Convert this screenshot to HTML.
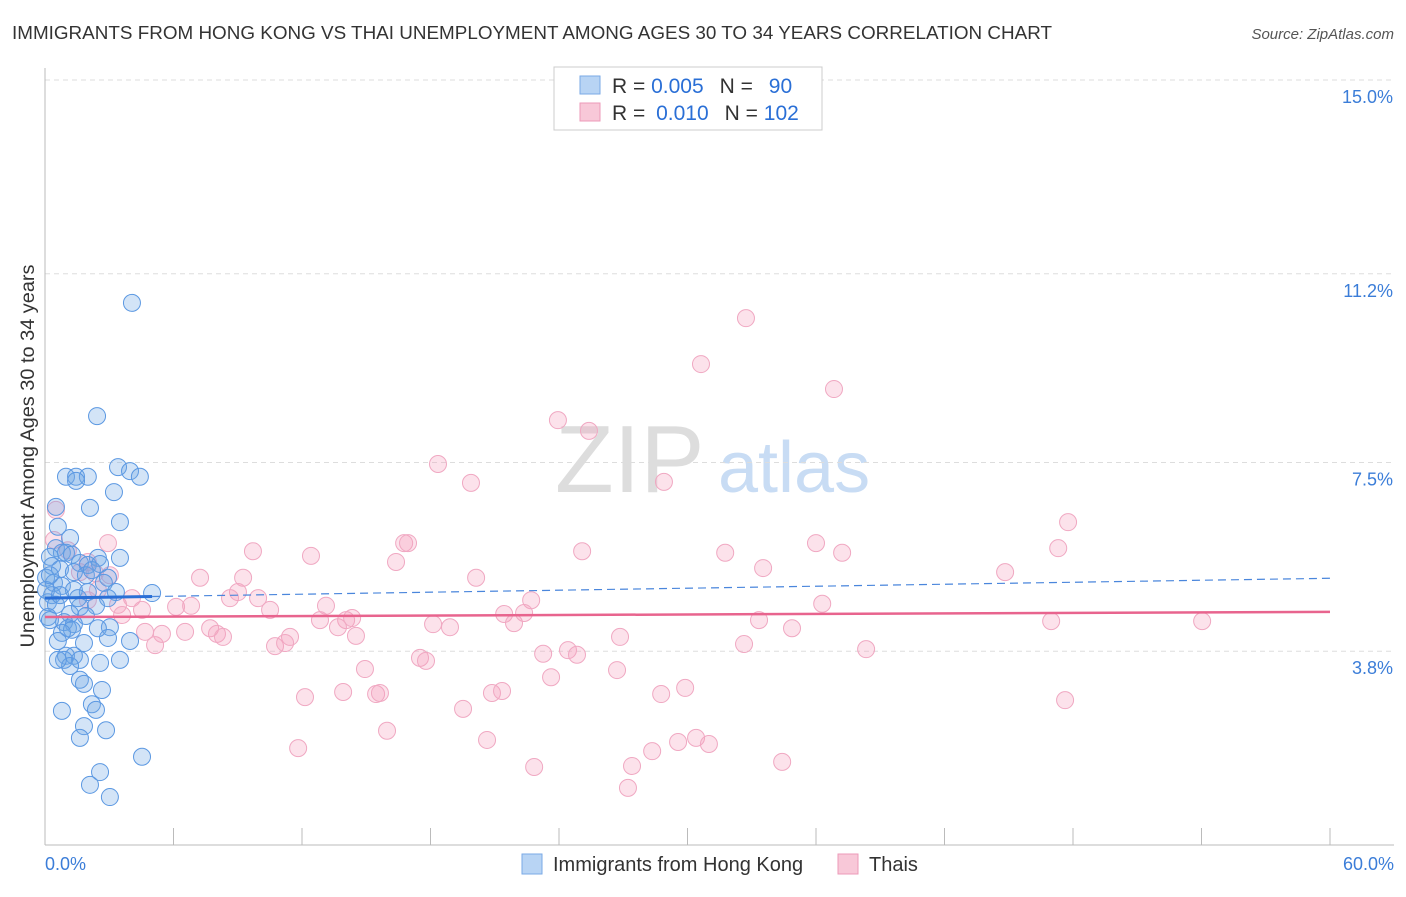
<!DOCTYPE html>
<html><head><meta charset="utf-8"><style>
body{margin:0;background:#fff;font-family:"Liberation Sans",sans-serif;}
svg text{font-family:"Liberation Sans",sans-serif;}
</style></head><body>
<svg id="chart" width="1406" height="892">
<text x="12" y="39" font-size="18" fill="#333" textLength="1040" lengthAdjust="spacingAndGlyphs">IMMIGRANTS FROM HONG KONG VS THAI UNEMPLOYMENT AMONG AGES 30 TO 34 YEARS CORRELATION CHART</text>
<text x="1394" y="39" font-size="15" fill="#555" font-style="italic" text-anchor="end">Source: ZipAtlas.com</text>
<text transform="translate(34,456) rotate(-90)" font-size="19" fill="#333" text-anchor="middle" textLength="383" lengthAdjust="spacingAndGlyphs">Unemployment Among Ages 30 to 34 years</text>
<text x="555" y="492" font-size="96" fill="#ddd" font-family="Liberation Serif">ZIP</text>
<text x="718" y="492" font-size="72" fill="#c8dcf4">atlas</text>
<g id="grid"></g><g id="pts"></g><g id="lines"></g>
<g>
<rect x="554" y="67" width="268" height="63" fill="#fff" stroke="#ccc"/>
<rect x="580" y="76" width="20" height="18" fill="#b8d4f4" stroke="#7aaae6"/>
<rect x="580" y="103" width="20" height="18" fill="#f8c8d8" stroke="#ec9ab8"/>
<text x="612" y="93" font-size="21" fill="#333">R = <tspan fill="#2a6fd6">0.005</tspan><tspan dx="16">N = </tspan><tspan fill="#2a6fd6" dx="10">90</tspan></text>
<text x="612" y="120" font-size="21" fill="#333">R = <tspan fill="#2a6fd6" dx="5">0.010</tspan><tspan dx="16">N = </tspan><tspan fill="#2a6fd6">102</tspan></text>
</g>
<g>
<rect x="522" y="854" width="20" height="20" fill="#b8d4f4" stroke="#7aaae6"/>
<text x="553" y="871" font-size="20" fill="#333">Immigrants from Hong Kong</text>
<rect x="838" y="854" width="20" height="20" fill="#f8c8d8" stroke="#ec9ab8"/>
<text x="869" y="871" font-size="20" fill="#333">Thais</text>
</g>
</svg>
<script>
const yTicks=[15.0,11.2,7.5,3.8];
const yTickLabels=["15.0%","11.2%","7.5%","3.8%"];
const xTickVals=[0,6,12,18,24,30,36,42,48,54,60];
const blueX=[4.06,2.43,3.41,3.97,4.43,0.98,1.45,2.0,1.45,3.22,0.51,2.1,3.5,0.6,1.17,0.51,0.79,0.23,0.98,1.26,2.47,3.5,1.63,2.0,2.57,0.33,0.7,1.35,1.91,2.94,0.05,0.42,2.75,0.79,1.35,2.0,0.33,3.31,5.0,2.94,0.14,0.51,1.63,2.38,1.17,1.91,0.14,0.89,1.35,1.07,1.26,3.03,0.79,2.47,2.94,3.97,0.6,1.82,0.98,1.35,1.63,0.89,3.5,1.17,2.57,1.63,1.82,2.66,2.19,2.38,0.79,1.82,2.85,1.63,4.53,2.57,2.1,3.03,0.6,0.23,0.05,0.23,0.7,2.19,1.54];
const blueY=[10.63,8.41,7.41,7.33,7.22,7.22,7.22,7.22,7.14,6.92,6.63,6.61,6.33,6.24,6.02,5.82,5.73,5.65,5.73,5.69,5.63,5.63,5.53,5.49,5.51,5.47,5.41,5.35,5.29,5.24,5.24,5.14,5.14,5.08,5.0,4.96,4.9,4.96,4.94,4.84,4.76,4.71,4.67,4.69,4.53,4.49,4.47,4.37,4.33,4.25,4.22,4.27,4.16,4.25,4.06,4.0,4.0,3.96,3.71,3.71,3.63,3.63,3.63,3.51,3.57,3.24,3.16,3.04,2.76,2.65,2.63,2.33,2.25,2.1,1.73,1.43,1.18,0.94,3.63,4.41,5.0,5.29,4.9,5.39,4.84];
const pinkX=[32.73,30.63,36.84,23.95,25.4,18.35,19.89,28.9,47.77,47.31,36.0,37.22,31.76,25.08,16.77,16.95,12.42,9.71,16.39,33.53,44.83,20.13,7.24,9.25,9.01,9.95,4.06,6.12,6.82,8.64,3.41,3.03,2.94,0.51,0.42,2.0,1.07,2.33,2.47,3.6,4.53,4.67,5.14,5.46,6.54,7.71,8.03,8.31,10.51,11.44,10.74,11.21,13.12,12.84,14.06,14.52,13.68,14.34,21.44,21.9,22.7,22.37,36.29,33.34,34.88,26.85,46.98,54.03,32.64,38.34,23.26,24.42,24.84,17.51,17.79,18.12,18.91,14.94,26.71,23.63,12.14,13.92,15.46,15.64,19.52,20.87,21.34,28.77,29.89,47.63,15.97,11.82,20.64,28.35,29.56,30.4,31.0,22.84,27.41,34.42,27.22,2.0,1.63];
const pinkY=[10.33,9.43,8.94,8.33,8.12,7.47,7.1,7.12,6.33,5.82,5.92,5.73,5.73,5.76,5.92,5.92,5.67,5.76,5.55,5.43,5.35,5.24,5.24,5.24,4.96,4.84,4.84,4.67,4.69,4.84,4.71,5.29,5.92,6.57,5.98,5.55,5.78,5.33,5.0,4.51,4.61,4.18,3.92,4.14,4.18,4.25,4.14,4.08,4.61,4.08,3.9,3.96,4.69,4.41,4.41,4.1,4.27,4.45,4.53,4.35,4.8,4.55,4.73,4.41,4.25,4.08,4.39,4.39,3.94,3.84,3.75,3.82,3.73,3.67,3.61,4.33,4.27,3.45,3.43,3.29,2.9,3.0,2.96,2.98,2.67,2.98,3.02,2.96,3.08,2.84,2.24,1.9,2.06,1.84,2.02,2.1,1.98,1.53,1.55,1.63,1.12,4.8,5.35];
const blueTrend=[4.84,5.23];
const pinkTrend=[4.47,4.57];
const NS="http://www.w3.org/2000/svg";
const X0=45,X1=1330,Y0=845,YT=80;
function sx(v){return X0+(X1-X0)*v/60;}
function sy(v){return Y0-(Y0-YT)*v/15;}
function mk(t,a,p){const e=document.createElementNS(NS,t);for(const k in a)e.setAttribute(k,a[k]);p.appendChild(e);return e;}
const grid=document.getElementById('grid');
yTicks.forEach((v,i)=>{
 const g=mk('line',{x1:X0,x2:1394,y1:sy(v),y2:sy(v),stroke:'#ddd','stroke-dasharray':'5,4'},grid);
 
 
 const t=mk('text',{x:1393,y:sy(v)+23,'font-size':18,fill:'#3b7dd8','text-anchor':'end'},grid);
 t.textContent=yTickLabels[i];
 
 
});
const ax=mk('line',{x1:X0,x2:X0,y1:68,y2:Y0,stroke:'#bbb'},grid);


const bx=mk('line',{x1:X0,x2:1394,y1:Y0,y2:Y0,stroke:'#bbb'},grid);


xTickVals.forEach(v=>{
 const l=mk('line',{x1:sx(v),x2:sx(v),y1:Y0,y2:Y0-17,stroke:'#bbb'},grid);
 
 
});
[[0,'0.0%','start',45],[60,'60.0%','end',1394]].forEach(d=>{
 const t=mk('text',{x:d[3],y:870,'font-size':18,fill:'#3b7dd8','text-anchor':d[2]},grid);
 t.textContent=d[1];
 
 
});
const pts=document.getElementById('pts');
pinkX.forEach((v,i)=>{
 const c=mk('circle',{cx:sx(v),cy:sy(pinkY[i]),r:8.5,fill:'rgba(244,160,190,0.3)',stroke:'#f0a8c2','stroke-width':1},pts);
 
 
});
blueX.forEach((v,i)=>{
 const c=mk('circle',{cx:sx(v),cy:sy(blueY[i]),r:8.5,fill:'rgba(110,165,230,0.3)',stroke:'#5b98e2','stroke-width':1},pts);
 
 
});
const ln=document.getElementById('lines');
const bs=blueTrend[0]+(blueTrend[1]-blueTrend[0])*5/60;
const l1=mk('line',{x1:sx(0),y1:sy(blueTrend[0]),x2:sx(5),y2:sy(bs),stroke:'#2a6fd6','stroke-width':3},ln);


const l2=mk('line',{x1:sx(5),y1:sy(bs),x2:sx(60),y2:sy(blueTrend[1]),stroke:'#4a86dc','stroke-width':1.2,'stroke-dasharray':'8,5'},ln);


const l3=mk('line',{x1:sx(0),y1:sy(pinkTrend[0]),x2:sx(60),y2:sy(pinkTrend[1]),stroke:'#e8648e','stroke-width':2.5},ln);


</script>
</body></html>
